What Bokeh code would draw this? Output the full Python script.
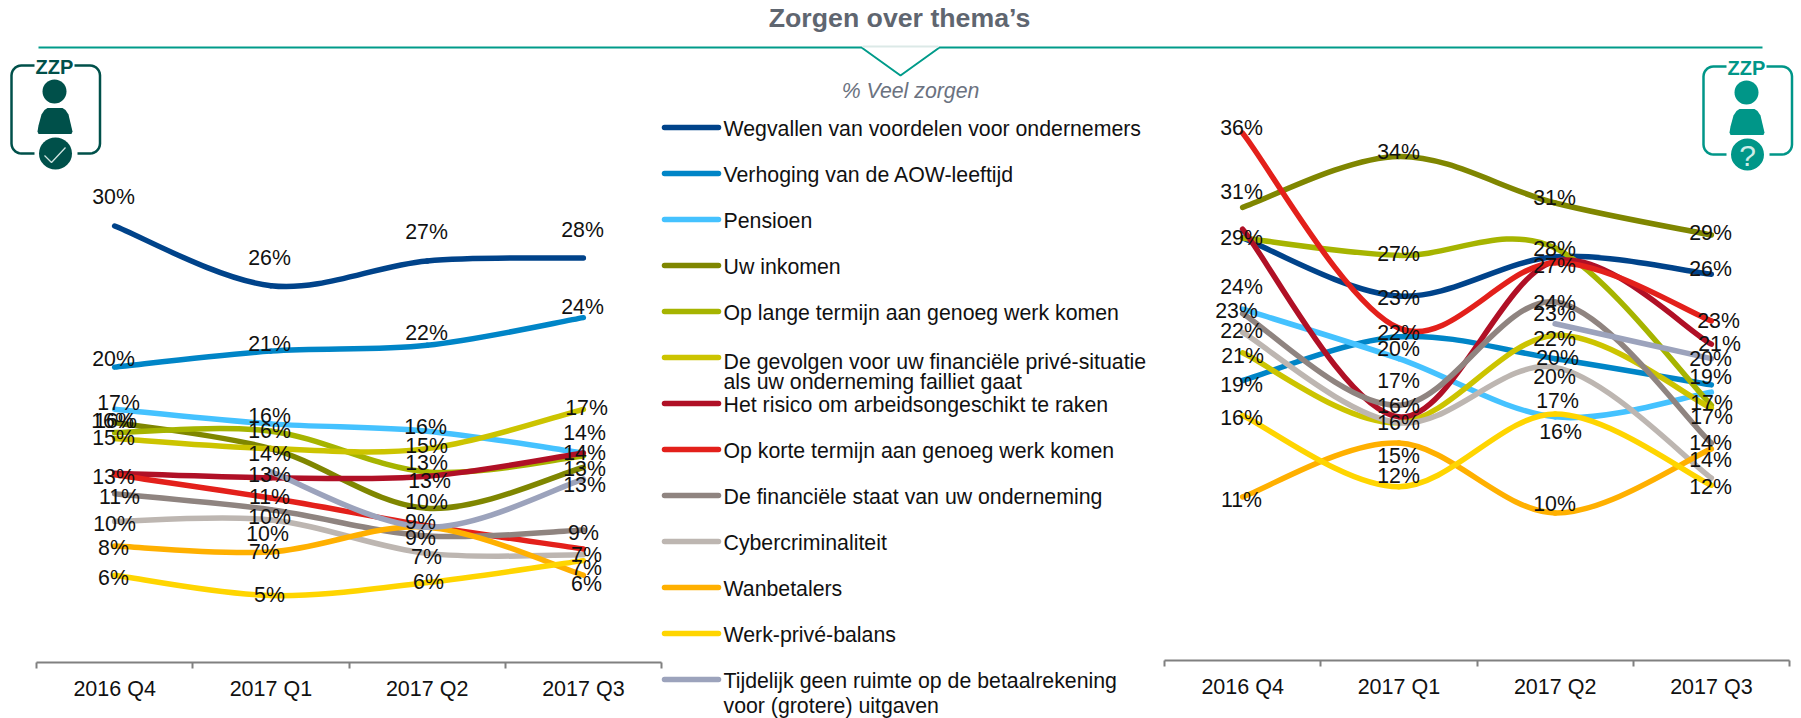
from bokeh.plotting import figure
from bokeh.models import Range1d, LinearAxis, FixedTicker
from bokeh.core.properties import value
from bokeh.embed import file_html
from bokeh.resources import INLINE
import numpy as np

categories = ["2016 Q4", "2017 Q1", "2017 Q2", "2017 Q3"]
series_names = [
    "Wegvallen van voordelen voor ondernemers",
    "Verhoging van de AOW-leeftijd",
    "Pensioen",
    "Uw inkomen",
    "Op lange termijn aan genoeg werk komen",
    "De gevolgen voor uw financiële privé-situatie\nals uw onderneming failliet gaat",
    "Het risico om arbeidsongeschikt te raken",
    "Op korte termijn aan genoeg werk komen",
    "De financiële staat van uw onderneming",
    "Cybercriminaliteit",
    "Wanbetalers",
    "Werk-privé-balans",
    "Tijdelijk geen ruimte op de betaalrekening\nvoor (grotere) uitgaven",
]
series_colors = ["#00438A", "#0085C7", "#45C2FF", "#7F8600", "#A6B400", "#CCC400", "#B01026",
                 "#E3201B", "#8F8480", "#BDB6B1", "#FFB000", "#FFD500", "#9CA3BC"]

# left panel: ZZP with work
l_wegvallen = [30.0, 25.9, 27.6, 27.8]
l_verhoging = [20.3, 21.4, 21.8, 23.7]
l_pensioen = [17.4, 16.4, 15.9, 14.4]
l_inkomen = [16.5, 14.7, 10.6, 13.4]
l_lange = [15.8, 15.9, 13.1, 14.2]
l_gevolgen = [15.4, 14.7, 14.7, 17.4]
l_risico = [13.0, 12.7, 12.8, 14.4]
l_korte = [12.9, 11.3, 9.4, 7.8]
l_financieel = [11.6, 10.5, 8.7, 9.1]
l_cyber = [9.7, 9.8, 7.5, 7.4]
l_wanbetalers = [8.0, 7.6, 9.3, 6.0]
l_werkprive = [6.0, 4.6, 5.5, 7.0]
l_tijdelijk = [None, 13.1, 9.3, 12.6]
left_values = [l_wegvallen, l_verhoging, l_pensioen, l_inkomen, l_lange, l_gevolgen, l_risico,
               l_korte, l_financieel, l_cyber, l_wanbetalers, l_werkprive, l_tijdelijk]

# right panel: ZZP without work
r_wegvallen = [28.7, 24.7, 27.4, 26.2]
r_verhoging = [18.9, 21.9, 20.4, 18.6]
r_pensioen = [23.8, 20.4, 16.4, 18.1]
r_inkomen = [30.8, 34.3, 31.1, 28.9]
r_lange = [28.7, 27.5, 28.0, 17.2]
r_gevolgen = [20.8, 16.0, 22.0, 17.0]
r_risico = [29.3, 16.4, 27.1, 21.4]
r_korte = [35.9, 22.5, 27.0, 23.0]
r_financieel = [23.5, 17.2, 24.3, 14.6]
r_cyber = [22.2, 16.0, 19.8, 12.2]
r_wanbetalers = [10.9, 14.6, 9.8, 14.2]
r_werkprive = [16.5, 11.6, 16.6, 11.7]
r_tijdelijk = [None, None, 22.8, 20.4]
right_values = [r_wegvallen, r_verhoging, r_pensioen, r_inkomen, r_lange, r_gevolgen, r_risico,
                r_korte, r_financieel, r_cyber, r_wanbetalers, r_werkprive, r_tijdelijk]

# printed data labels
left_labels = [[30, 26, 27, 28], [20, 21, 22, 24], [17, 16, 16, 14], [16, 14, 10, 13], [16, 16, 13, 14],
               [15, 14, 15, 17], [13, 13, 13, 14], [13, 11, 9, 7], [11, 10, 9, 9], [10, 10, 7, 7],
               [8, 7, 9, 6], [6, 5, 6, 7], [None, 13, 9, 13]]
right_labels = [[29, 23, 27, 26], [19, 20, 20, 19], [24, 17, 16, 17], [31, 34, 31, 29], [29, 27, 28, 17],
                [21, 16, 22, 17], [29, 16, 27, 21], [36, 22, 27, 23], [23, 16, 24, 14], [22, 16, 20, 12],
                [11, 15, 10, 14], [16, 12, 17, 12], [None, None, 23, 20]]

# where the chart's own hand-placed labels sit on the page (px)
left_label_pos = [
    [(113, 196), (269, 257), (426, 231), (582, 229)],
    [(113, 358), (269, 343), (426, 332), (582, 306)],
    [(118, 402), (269, 415), (425, 426), (584, 432)],
    [(112, 420), (269, 453), (426, 501), (584, 468)],
    [(115, 420), (269, 430), (426, 462), (584, 452)],
    [(113, 437), (269, 453), (426, 445), (586, 407)],
    [(113, 476), (269, 474), (429, 480), (584, 452)],
    [(113, 476), (269, 496), (420, 522), (586, 554)],
    [(119, 496), (269, 516), (420, 537), (583, 532)],
    [(114, 523), (267, 533), (426, 556), (586, 554)],
    [(113, 547), (264, 551), (420, 522), (586, 583)],
    [(113, 577), (269, 594), (428, 581), (586, 567)],
    [None, (269, 474), (420, 522), (584, 484)],
]
right_label_pos = [
    [(1241, 237), (1398, 297), (1554, 266), (1710, 268)],
    [(1241, 384), (1398, 348), (1557, 357), (1710, 376)],
    [(1241, 286), (1398, 380), (1560, 431), (1711, 416)],
    [(1241, 191), (1398, 151), (1554, 197), (1710, 232)],
    [(1241, 237), (1398, 253), (1554, 248), (1711, 402)],
    [(1242, 355), (1398, 422), (1554, 338), (1711, 416)],
    [(1241, 237), (1398, 422), (1554, 266), (1719, 343)],
    [(1241, 127), (1398, 332), (1554, 266), (1718, 320)],
    [(1236, 310), (1398, 405), (1554, 302), (1710, 442)],
    [(1241, 330), (1398, 422), (1554, 376), (1710, 486)],
    [(1241, 499), (1398, 455), (1554, 504), (1710, 459)],
    [(1241, 417), (1398, 475), (1557, 400), (1710, 486)],
    [None, None, (1554, 313), (1710, 358)],
]
legend_line_heights = [1.0, 1.0, 1.0, 1.0, 1.0, 0.86, 1.0, 1.0, 1.0, 1.0, 1.0, 1.0, 1.05]
legend_text_nudges = [0, 0, 0, 0, 0, 3, 0, 0, 0, 0, 0, 0, 0]

FONT = value("Liberation Sans")
LABEL_SIZE = "21.3px"
TEAL = "#009B8A"
WIDTH, HEIGHT = 1801, 718
PX_PER_CAT, PX_PER_PCT = 156.25, 14.55

p = figure(width=WIDTH, height=HEIGHT, output_backend="svg", toolbar_location=None,
           x_range=Range1d(0, WIDTH), y_range=Range1d(HEIGHT, 0),
           x_axis_location=None, y_axis_location=None,
           min_border_left=0, min_border_right=0, min_border_top=0, min_border_bottom=0)
p.grid.visible = False
p.outline_line_color = None


def panel(name, vals, labels, label_pos, axis_left, axis_y, zero_y):
    xn, yn = name + "x", name + "y"
    p.extra_x_ranges[xn] = Range1d(-axis_left / PX_PER_CAT, (WIDTH - axis_left) / PX_PER_CAT)
    p.extra_y_ranges[yn] = Range1d((zero_y - HEIGHT) / PX_PER_PCT, zero_y / PX_PER_PCT)
    kw = dict(x_range_name=xn, y_range_name=yn)

    axis = LinearAxis(ticker=FixedTicker(ticks=[0.5, 1.5, 2.5, 3.5], minor_ticks=[0, 1, 2, 3, 4]),
                      major_label_overrides={i + 0.5: c for i, c in enumerate(categories)},
                      major_tick_line_color=None, major_tick_out=0, major_tick_in=0,
                      minor_tick_out=6, minor_tick_in=0, minor_tick_line_color="#808080", minor_tick_line_width=2,
                      axis_line_color="#808080", axis_line_width=2, bounds=(0, 4),
                      major_label_text_font="Liberation Sans", major_label_text_font_size="21.5px",
                      major_label_text_color="#111111", major_label_standoff=8,
                      x_range_name=xn, fixed_location=axis_y)
    p.add_layout(axis, "below")

    for v, c in zip(vals, series_colors):
        idx = [i for i, a in enumerate(v) if a is not None]
        xs = [i + 0.5 for i in idx]
        ys = [v[i] for i in idx]
        n = len(xs)
        for k in range(n - 1):
            a, b = max(k - 1, 0), min(k + 2, n - 1)
            p.bezier(x0=[xs[k]], y0=[ys[k]], x1=[xs[k + 1]], y1=[ys[k + 1]],
                     cx0=[xs[k] + (xs[k + 1] - xs[a]) / 6], cy0=[ys[k] + (ys[k + 1] - ys[a]) / 6],
                     cx1=[xs[k + 1] - (xs[b] - xs[k]) / 6], cy1=[ys[k + 1] - (ys[b] - ys[k]) / 6],
                     line_color=c, line_width=5.5, line_cap="round", **kw)

    seen = set()  # labels that coincide exactly read as one printed label
    for v, lab, pos in zip(vals, labels, label_pos):
        for i, (a, t, q) in enumerate(zip(v, lab, pos)):
            if a is None or (t, q) in seen:
                continue
            seen.add((t, q))
            p.text(x=[i + 0.5], y=[a], text=[f"{t}%"],
                   x_offset=q[0] - (axis_left + (i + 0.5) * PX_PER_CAT),
                   y_offset=q[1] - (zero_y - a * PX_PER_PCT),
                   text_font=FONT, text_font_size=LABEL_SIZE, text_color="#111111",
                   text_align="center", text_baseline="middle", **kw)


def icon(dx, dy, color, mark):
    arc = np.linspace(0, np.pi / 2, 8)
    r = 10
    L, R, T, B = 11 + dx, 99.5 + dx, 65 + dy, 153 + dy
    lx = [34 + dx] + list(L + r - r * np.sin(arc)) + list(L + r - r * np.cos(arc)) + [34 + dx]
    ly = [T] + list(T + r - r * np.cos(arc)) + list(B - r + r * np.sin(arc)) + [B]
    rx = [74 + dx] + list(R - r + r * np.sin(arc)) + list(R - r + r * np.cos(arc)) + [77 + dx]
    p.line(lx, ly, line_color=color, line_width=2.5)
    p.line(rx, ly, line_color=color, line_width=2.5)
    p.text([54 + dx], [66 + dy], text=["ZZP"], text_font=FONT, text_font_style="bold", text_font_size="20px",
           text_color=color, text_align="center", text_baseline="middle")
    p.ellipse([54 + dx], [91 + dy], width=24, height=24, fill_color=color, line_color=None)
    bx = np.array([37, 38, 41, 44, 47, 62, 65, 68, 72, 71, 38]) + dx
    by = np.array([131, 125, 114, 109.5, 107.5, 107.5, 109.5, 114, 131, 133.5, 133.5]) + dy
    p.patch(bx, by, fill_color=color, line_color=None)
    p.ellipse([55 + dx], [153 + dy], width=33, height=32, fill_color=color, line_color=None)
    if mark == "check":
        p.line([44 + dx, 51 + dx, 65 + dx], [155 + dy, 162 + dy, 147 + dy], line_color="#CFE3E0", line_width=1.3)
    else:
        p.text([55 + dx], [154 + dy], text=["?"], text_font=FONT, text_font_size="30px",
               text_color="#CFEDE8", text_align="center", text_baseline="middle")


panel("l", left_values, left_labels, left_label_pos, 36, 662, 662)
panel("r", right_values, right_labels, right_label_pos, 1164, 660, 655)

icon(0, 0, "#00504A", "check")
icon(1692, 1, "#009688", "question")

p.text([899], [17], text=["Zorgen over thema’s"], text_font=FONT, text_font_style="bold", text_font_size="26.7px",
       text_color="#5F6670", text_align="center", text_baseline="middle")
p.line([38, 861, 900, 939, 1762], [47, 47, 75, 47, 47], line_color=TEAL, line_width=2)
p.line([862, 938], [46, 46], line_color="#DCE9E7", line_width=2)
p.text([910], [90], text=["% Veel zorgen"], text_font=FONT, text_font_style="italic", text_font_size="21.3px",
       text_color="#6B7280", text_align="center", text_baseline="middle")

for i, (name, c, lh, nudge) in enumerate(zip(series_names, series_colors, legend_line_heights, legend_text_nudges)):
    y = 127 + 46 * i
    p.line([664, 718], [y, y], line_color=c, line_width=5.5, line_cap="round")
    p.text([723], [y - 11 + nudge], text=[name], text_font=FONT, text_font_size="21.3px", text_color="#111111",
           text_align="left", text_baseline="top", text_line_height=lh)

open("out.html", "w").write(file_html(p, INLINE))
